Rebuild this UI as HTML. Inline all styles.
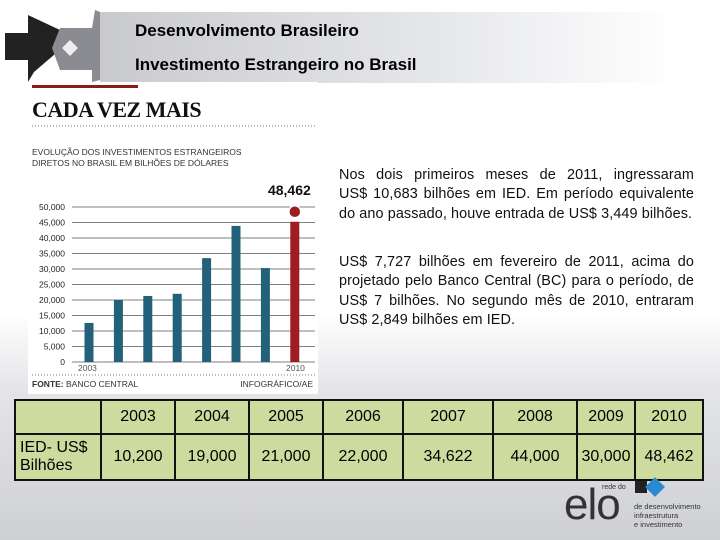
<!DOCTYPE html>
<html><head><meta charset="utf-8"><style>
body{margin:0;width:720px;height:540px;overflow:hidden;position:relative;font-family:"Liberation Sans",sans-serif;background:linear-gradient(180deg,#fff 0%,#fff 58%,#e4e5e8 72%,#cfd0d4 100%);}
.hdr{position:absolute;left:100px;top:12px;width:610px;height:71px;background:linear-gradient(90deg,#c9cace 0%,#e6e7ea 55%,#fff 95%);}
.ht{position:absolute;left:135px;font-size:17px;font-weight:bold;color:#000;}
.para{position:absolute;left:339px;width:355px;font-size:14.4px;letter-spacing:0.1px;line-height:19.3px;text-align:justify;color:#111;}
table{position:absolute;left:14px;top:399px;border-collapse:collapse;background:#cddc9e;font-size:16px;}
td{border:2px solid #111;text-align:center;padding:0;}
</style></head><body>
<div class="hdr"></div>
<svg style="position:absolute;left:0;top:0" width="110" height="85">
<polygon points="28,15 60,30 62,48 34,72 28,82 28,60 5,60 5,33 28,33" fill="#222"/>
<polygon points="95,10 100,12 100,80 92,82 92,70 60,70 52,48 60,28 92,28" fill="#8a8c92"/>
<polygon points="62,48 70,40 78,48 70,56" fill="#eee"/>
</svg>
<div class="ht" style="top:21px">Desenvolvimento Brasileiro</div>
<div class="ht" style="top:55px">Investimento Estrangeiro no Brasil</div>
<svg style="position:absolute;left:28px;top:82px" width="290" height="312" id="chart">
<rect x="0" y="0" width="290" height="312" fill="#fff"/>
<rect x="4" y="3" width="106" height="3" fill="#8b1a1a"/>
<text x="4" y="35" font-family="Liberation Serif" font-weight="bold" font-size="22" fill="#111" letter-spacing="-0.5">CADA VEZ MAIS</text>
<line x1="4" y1="44" x2="287" y2="44" stroke="#777" stroke-dasharray="1,2" stroke-width="1"/>
<text x="4" y="73" font-size="8.5" fill="#333">EVOLUÇÃO DOS INVESTIMENTOS ESTRANGEIROS</text>
<text x="4" y="84" font-size="8.5" fill="#333">DIRETOS NO BRASIL EM BILHÕES DE DÓLARES</text>
<g id="g"></g>
<text x="50" y="289" font-size="8.5" fill="#555">2003</text>
<text x="258" y="289" font-size="8.5" fill="#555">2010</text>
<line x1="4" y1="293" x2="287" y2="293" stroke="#777" stroke-dasharray="1,2"/>
<text x="4" y="305" font-size="8.5" fill="#333"><tspan font-weight="bold">FONTE:</tspan> BANCO CENTRAL</text>
<text x="285" y="305" font-size="8.5" fill="#333" text-anchor="end">INFOGRÁFICO/AE</text>
</svg>
<div class="para" style="top:166px">Nos dois primeiros meses de 2011, ingressaram US$&nbsp;10,683 bilhões em IED. Em período equivalente do ano passado, houve entrada de US$&nbsp;3,449 bilhões.</div>
<div class="para" style="top:253px">US$ 7,727 bilhões em fevereiro de 2011, acima do projetado pelo Banco Central (BC) para o período, de US$ 7 bilhões. No segundo mês de 2010, entraram US$ 2,849 bilhões em IED.</div>
<table>
<tr style="height:34px"><td style="width:84px"></td><td style="width:72px">2003</td><td style="width:72px">2004</td><td style="width:72px">2005</td><td style="width:78px">2006</td><td style="width:88px">2007</td><td style="width:82px">2008</td><td style="width:56px">2009</td><td style="width:66px">2010</td></tr>
<tr style="height:46px"><td style="text-align:left;padding-left:4px;line-height:18px">IED- US$<br>Bilhões</td><td>10,200</td><td>19,000</td><td>21,000</td><td>22,000</td><td>34,622</td><td>44,000</td><td>30,000</td><td>48,462</td></tr>
</table>
<div style="position:absolute;left:564px;top:480px;font-size:44px;color:#333;letter-spacing:-1px">elo</div>
<div style="position:absolute;left:602px;top:484px;font-size:7px;color:#333">rede do</div>
<div style="position:absolute;left:634px;top:502px;font-size:7.5px;color:#333;line-height:9px">de desenvolvimento<br>infraestrutura<br>e investimento</div>
<div style="position:absolute;left:635px;top:481px;width:12px;height:12px;background:#222"></div>
<div style="position:absolute;left:648px;top:480px;width:14px;height:14px;background:#2a8ad0;transform:rotate(45deg)"></div>
<script>
const years=["2003","2004","2005","2006","2007","2008","2009","2010"];
const values=[12600,20000,21300,22000,33500,43900,30300,48462];
const ticks=[0,5000,10000,15000,20000,25000,30000,35000,40000,45000,50000];
const tickLabels=["0","5,000","10,000","15,000","20,000","25,000","30,000","35,000","40,000","45,000","50,000"];
const NS="http://www.w3.org/2000/svg";
const g=document.getElementById('g');
const y=v=>280-v/50000*155;
const x=i=>61+i*29.4;
function el(t,a){const e=document.createElementNS(NS,t);for(const k in a)e.setAttribute(k,a[k]);g.appendChild(e);return e;}
ticks.forEach((t,i)=>{
 const l=el('line',{x1:44,x2:287,y1:y(t),y2:y(t),stroke:'#555','stroke-width':0.8});
 
 
 const tx=el('text',{x:37,y:y(t)+3,'font-size':8.5,'text-anchor':'end',fill:'#222'});
 tx.textContent=tickLabels[i];
 
 
});
values.forEach((v,i)=>{
 const last=i===values.length-1;
 const top=last?y(v)+10:y(v);
 const b=el('rect',{x:x(i)-4.5,y:top,width:9,height:280-top,fill:last?'#a01c22':'#23607a'});
 
 
 if(last){
  const c=el('circle',{cx:x(i),cy:y(v),r:6,fill:'#a01c22',stroke:'#fff','stroke-width':1.5});
  
  
  const t=el('text',{x:x(i)+16,y:y(v)-17,'font-size':14,'font-weight':'bold','text-anchor':'end',fill:'#111'});
  t.textContent=v.toLocaleString('en-US');
  
  
 }
});
</script>
</body></html>
